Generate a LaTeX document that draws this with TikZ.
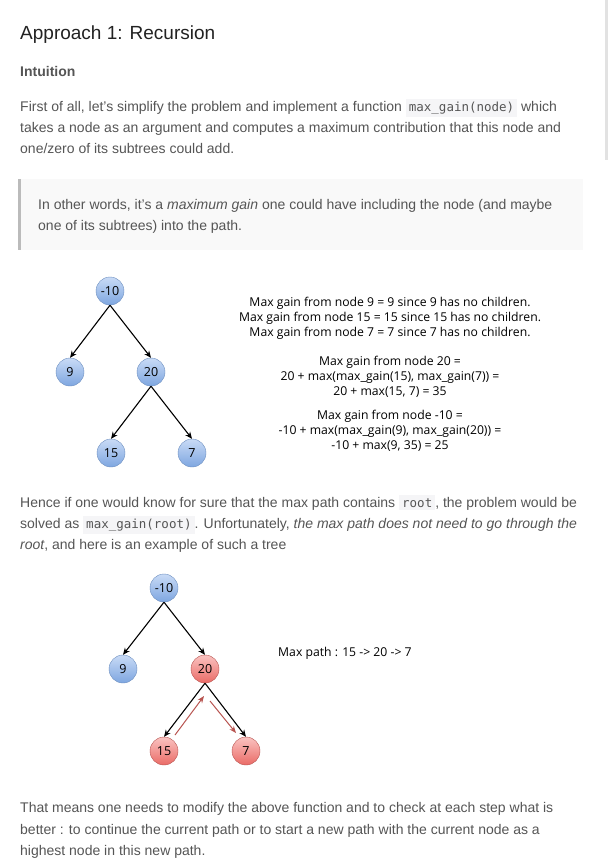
\documentclass[tikz,border=0pt]{standalone}
\usepackage{fontspec}
\setmainfont{Liberation Sans}
\setmonofont{DejaVu Sans Mono}
\newfontfamily\comicfont{Open Sans}
\usepackage{tikz}
\usetikzlibrary{positioning}
\usetikzlibrary{arrows.meta}

\definecolor{textogris}{HTML}{555555}
\definecolor{titulogris}{HTML}{222222}
\definecolor{fondocodigo}{HTML}{F5F5F7}
\definecolor{fondocita}{HTML}{F9F9F9}
\definecolor{bordecita}{HTML}{BBBBBB}
\definecolor{barra}{HTML}{E2E2E2}
\definecolor{azulclaro}{HTML}{C9DBF6}
\definecolor{azuloscuro}{HTML}{7EA6E0}
\definecolor{azulborde}{HTML}{6C8EBF}
\definecolor{rojoclaro}{HTML}{FAC3C1}
\definecolor{rojooscuro}{HTML}{EA6B66}
\definecolor{rojoborde}{HTML}{B85450}

\newcommand{\codigo}[1]{{\setlength{\fboxsep}{3pt}\colorbox{fondocodigo}{\ttfamily\fontsize{12.5}{12.5}\selectfont\color{textogris}#1}}}

\begin{document}
\begin{tikzpicture}[x=1pt, y=-1pt,
    linea/.style={anchor=base west, inner sep=0pt, text=textogris, font=\fontsize{14}{14}\selectfont},
    nota/.style={anchor=base, inner sep=0pt, font=\comicfont\fontsize{12.2}{12.2}\selectfont},
    arbol/.style={circle, minimum size=28pt, inner sep=0pt, font=\comicfont\fontsize{12.5}{12.5}\selectfont},
    azul/.style={arbol, draw=azulborde, top color=azulclaro, bottom color=azuloscuro},
    rojo/.style={arbol, draw=rojoborde, top color=rojoclaro, bottom color=rojooscuro},
    arista/.style={-{Stealth[length=7pt,width=6pt]}, line width=1.1pt},
    camino/.style={-{Stealth[length=7pt,width=5.5pt]}, draw=rojoborde, line width=1pt}]
            % Fondo
            \useasboundingbox (0,0) rectangle (608,862);
            \fill[white] (0,0) rectangle (608,862);
            \fill[barra] (605,0) rectangle (608,160);

            % Texto
            \node[anchor=base west, inner sep=0pt, text=titulogris, font=\fontsize{19}{19}\selectfont] (titulo) at (20,39) {Approach 1: Recursion};
            \node[linea, font=\bfseries\fontsize{14}{14}\selectfont] (intuicion) at (20,76) {Intuition};
            \node[linea] (p1a) at (20,111) {First of all, let's simplify the problem and implement a function \codigo{max\_gain(node)} which};
            \node[linea] (p1b) at (20,132) {takes a node as an argument and computes a maximum contribution that this node and};
            \node[linea] (p1c) at (20,153) {one/zero of its subtrees could add.};

            \fill[fondocita] (18,179) rectangle (583,250);
            \fill[bordecita] (18,179) rectangle (21,250);
            \node[linea] (citaa) at (38,209) {In other words, it's a \textit{maximum gain} one could have including the node (and maybe};
            \node[linea] (citab) at (38,230) {one of its subtrees) into the path.};

            \node[linea] (p2a) at (20,507) {Hence if one would know for sure that the max path contains \codigo{root}, the problem would be};
            \node[linea] (p2b) at (20,528) {solved as \codigo{max\_gain(root)}. Unfortunately, \textit{the max path does not need to go through the}};
            \node[linea] (p2c) at (20,549) {\textit{root}, and here is an example of such a tree};

            \node[linea] (p3a) at (20,812) {That means one needs to modify the above function and to check at each step what is};
            \node[linea] (p3b) at (20,834) {better : to continue the current path or to start a new path with the current node as a};
            \node[linea] (p3c) at (20,855) {highest node in this new path.};

            % Arbol 1
            \node[azul] (a) at (110,291) {-10};
            \node[azul] (b) at (70,372) {9};
            \node[azul] (c) at (151,372) {20};
            \node[azul] (d) at (111,453) {15};
            \node[azul] (e) at (192,453) {7};

            \draw[arista] (a.south) -- (b.north);
            \draw[arista] (a.south) -- (c.north);
            \draw[arista] (c.south) -- (d.north);
            \draw[arista] (c.south) -- (e.north);

            \node[nota] (g1) at (390,306) {Max gain from node 9 = 9 since 9 has no children.};
            \node[nota] (g2) at (390,321) {Max gain from node 15 = 15 since 15 has no children.};
            \node[nota] (g3) at (390,336) {Max gain from node 7 = 7 since 7 has no children.};
            \node[nota] (g4) at (390,365) {Max gain from node 20 =};
            \node[nota] (g5) at (390,380) {20 + max(max\_gain(15), max\_gain(7)) =};
            \node[nota] (g6) at (390,395) {20 + max(15, 7) = 35};
            \node[nota] (g7) at (390,419) {Max gain from node -10 =};
            \node[nota] (g8) at (390,434) {-10 + max(max\_gain(9), max\_gain(20)) =};
            \node[nota] (g9) at (390,449) {-10 + max(9, 35) = 25};

            % Arbol 2
            \node[azul] (r) at (164,588) {-10};
            \node[azul] (n9) at (123,669) {9};
            \node[rojo] (n20) at (205,669) {20};
            \node[rojo] (n15) at (164,751) {15};
            \node[rojo] (n7) at (246,751) {7};

            \draw[arista] (r.south) -- (n9.north);
            \draw[arista] (r.south) -- (n20.north);
            \draw[arista] (n20.south) -- (n15.north);
            \draw[arista] (n20.south) -- (n7.north);

            \coordinate (c1) at (175,735);
            \coordinate (c2) at (204,696);
            \coordinate (c3) at (210,701);
            \coordinate (c4) at (236,733);
            \draw[camino] (c1) -- (c2);
            \draw[camino] (c3) -- (c4);

            \node[nota, anchor=base west] (maxpath) at (278,656) {Max path : 15 -> 20 -> 7};
          \end{tikzpicture}
\end{document}
